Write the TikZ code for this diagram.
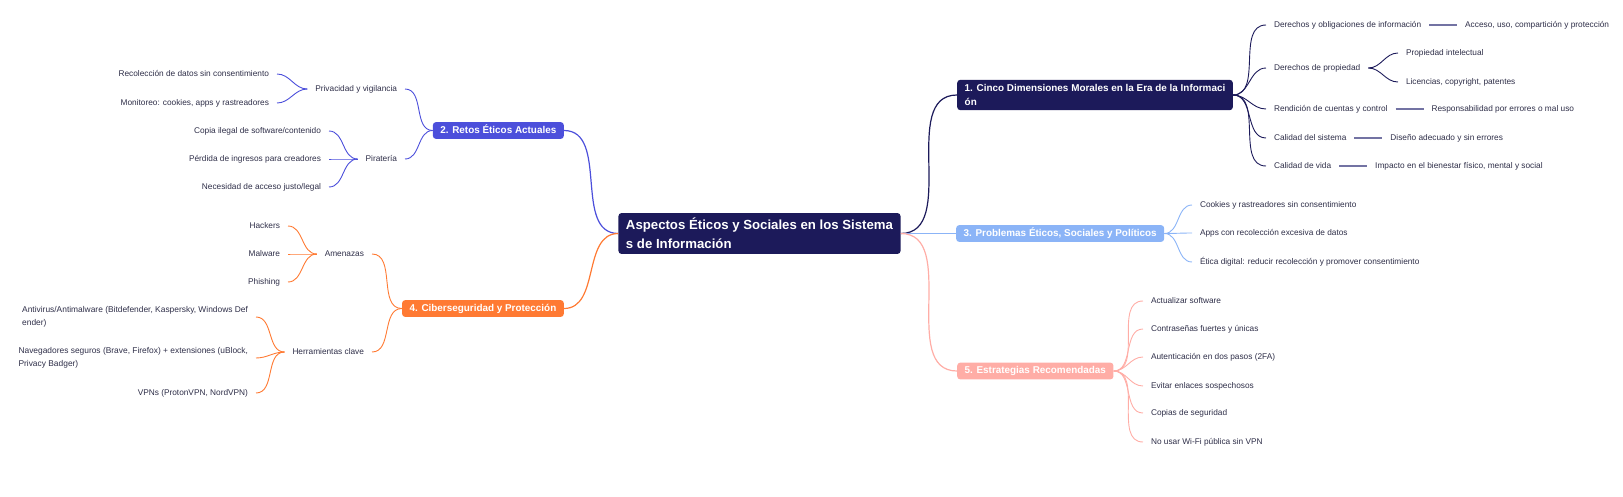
\documentclass[tikz,border=0pt]{standalone}
\usepackage{fontspec}
\setmainfont{Liberation Sans}
\usepackage{xcolor}
\usetikzlibrary{positioning}

\definecolor{navy}{HTML}{1C1A5A}
\definecolor{retosblue}{HTML}{4C4FDB}
\definecolor{probblue}{HTML}{8BB4F7}
\definecolor{ciberorange}{HTML}{FF7A33}
\definecolor{estrpink}{HTML}{FFADA6}
\definecolor{leaftext}{HTML}{2E2E48}
\definecolor{barnavy}{HTML}{7373A3}

\begin{document}
\begin{tikzpicture}[x=1pt, y=-1pt]
	\tikzset{
		root/.style={rectangle, rounded corners=3pt, fill=navy, text=white, font=\fontsize{13.2}{19}\selectfont\bfseries, align=left, inner xsep=7.5pt, inner ysep=5pt},
		topic/.style={rectangle, rounded corners=3pt, text=white, font=\fontsize{9.9}{14}\selectfont\bfseries, inner xsep=7.5pt, inner ysep=3.5pt, text height=7.5pt, text depth=2.2pt},
		topicwrap/.style={rectangle, rounded corners=3pt, text=white, font=\fontsize{9.9}{14}\selectfont\bfseries, align=left, inner xsep=7.5pt, inner ysep=4.5pt},
		leaf/.style={inner sep=0pt, outer xsep=8pt, outer ysep=0pt, text=leaftext, font=\fontsize{8.3}{13}\selectfont, text height=6pt, text depth=2pt},
		leafwrap/.style={inner sep=0pt, outer xsep=8pt, outer ysep=0pt, text=leaftext, font=\fontsize{8.4}{13}\selectfont, align=left},
		branch/.style={line width=1.2pt},
		link/.style={line width=0.9pt},
		bar/.style={line width=2pt, barnavy},
	}
	\useasboundingbox (0,0) rectangle (1623,496);

	% Central topic
	\node[root] (root) at (759.5,233.5) {Aspectos Éticos y Sociales en los Sistema\\s de Información};

	% Main branches
	\node[topicwrap, fill=navy, anchor=west] (dim) at (957,95) {1. Cinco Dimensiones Morales en la Era de la Informaci\\ón};
	\node[topic, fill=retosblue, anchor=east] (retos) at (564,130.5) {2. Retos Éticos Actuales};
	\node[topic, fill=probblue, anchor=west] (prob) at (956,233.5) {3. Problemas Éticos, Sociales y Políticos};
	\node[topic, fill=ciberorange, anchor=east] (ciber) at (564,308.5) {4. Ciberseguridad y Protección};
	\node[topic, fill=estrpink, anchor=west] (estr) at (957,371) {5. Estrategias Recomendadas};

	\draw[branch, navy] (root.east) to[out=0, in=180] (dim.west);
	\draw[branch, retosblue] (root.west) to[out=180, in=0] (retos.east);
	\draw[branch, probblue] (root.east) to[out=0, in=180] (prob.west);
	\draw[branch, ciberorange] (root.west) to[out=180, in=0] (ciber.east);
	\draw[branch, estrpink] (root.east) to[out=0, in=180] (estr.west);

	% 1. Cinco dimensiones
	\foreach \y/\t [count=\i] in {25/Derechos y obligaciones de información, 68/Derechos de propiedad, 109/Rendición de cuentas y control, 138/Calidad del sistema, 166/Calidad de vida} {
		\node[leaf, anchor=west] (dim\i) at (1266,\y) {\t};
		\draw[link, navy] (dim.east) to[out=0, in=180] (dim\i.west);
	}
	\node[leaf, right=28pt of dim1] (acceso) {Acceso, uso, compartición y protección};
	\node[leaf, anchor=west] (prop1) at (1398,53) {Propiedad intelectual};
	\node[leaf, anchor=west] (prop2) at (1398,82) {Licencias, copyright, patentes};
	\node[leaf, right=28pt of dim3] (resp) {Responsabilidad por errores o mal uso};
	\node[leaf, right=28pt of dim4] (diseno) {Diseño adecuado y sin errores};
	\node[leaf, right=28pt of dim5] (impacto) {Impacto en el bienestar físico, mental y social};
	\draw[bar] (dim1.east) -- (acceso.west);
	\draw[link, navy] (dim2.east) to[out=0, in=180] (prop1.west);
	\draw[link, navy] (dim2.east) to[out=0, in=180] (prop2.west);
	\draw[bar] (dim3.east) -- (resp.west);
	\draw[bar] (dim4.east) -- (diseno.west);
	\draw[bar] (dim5.east) -- (impacto.west);

	% 3. Problemas
	\foreach \y/\t [count=\i] in {205/Cookies y rastreadores sin consentimiento, 233/Apps con recolección excesiva de datos, 262/Ética digital: reducir recolección y promover consentimiento} {
		\node[leaf, anchor=west] (prob\i) at (1192,\y) {\t};
		\draw[link, probblue] (prob.east) to[out=0, in=180] (prob\i.west);
	}

	% 5. Estrategias
	\foreach \y/\t [count=\i] in {301/Actualizar software, 329/Contraseñas fuertes y únicas, 357/Autenticación en dos pasos (2FA), 386/Evitar enlaces sospechosos, 413/Copias de seguridad, 442/No usar Wi-Fi pública sin VPN} {
		\node[leaf, anchor=west] (estr\i) at (1143,\y) {\t};
		\draw[link, estrpink] (estr.east) to[out=0, in=180] (estr\i.west);
	}

	% 2. Retos eticos
	\node[leaf, anchor=east] (priv) at (405,89) {Privacidad y vigilancia};
	\node[leaf, anchor=east] (pira) at (405,159) {Piratería};
	\draw[link, retosblue] (retos.west) to[out=180, in=0] (priv.east);
	\draw[link, retosblue] (retos.west) to[out=180, in=0] (pira.east);
	\foreach \y/\t [count=\i] in {74/Recolección de datos sin consentimiento, 103/{Monitoreo: cookies, apps y rastreadores}} {
		\node[leaf, anchor=east] (priv\i) at (277,\y) {\t};
		\draw[link, retosblue] (priv.west) to[out=180, in=0] (priv\i.east);
	}
	\foreach \y/\t [count=\i] in {131/{Copia ilegal de software/contenido}, 159/Pérdida de ingresos para creadores, 187/{Necesidad de acceso justo/legal}} {
		\node[leaf, anchor=east] (pira\i) at (329,\y) {\t};
		\draw[link, retosblue] (pira.west) to[out=180, in=0] (pira\i.east);
	}

	% 4. Ciberseguridad
	\node[leaf, anchor=east] (amen) at (372,254) {Amenazas};
	\node[leaf, anchor=east] (herr) at (372,352) {Herramientas clave};
	\draw[link, ciberorange] (ciber.west) to[out=180, in=0] (amen.east);
	\draw[link, ciberorange] (ciber.west) to[out=180, in=0] (herr.east);
	\foreach \y/\t [count=\i] in {226/Hackers, 254/Malware, 282/Phishing} {
		\node[leaf, anchor=east] (amen\i) at (288,\y) {\t};
		\draw[link, ciberorange] (amen.west) to[out=180, in=0] (amen\i.east);
	}
	\node[leafwrap, anchor=east] (herr1) at (256,317) {Antivirus/Antimalware (Bitdefender, Kaspersky, Windows Def\\ender)};
	\node[leafwrap, anchor=east] (herr2) at (256,358) {Navegadores seguros (Brave, Firefox) + extensiones (uBlock,\\Privacy Badger)};
	\node[leaf, anchor=east] (herr3) at (256,393) {VPNs (ProtonVPN, NordVPN)};
	\foreach \k in {1,2,3} {
		\draw[link, ciberorange] (herr.west) to[out=180, in=0] (herr\k.east);
	}
\end{tikzpicture}
\end{document}
